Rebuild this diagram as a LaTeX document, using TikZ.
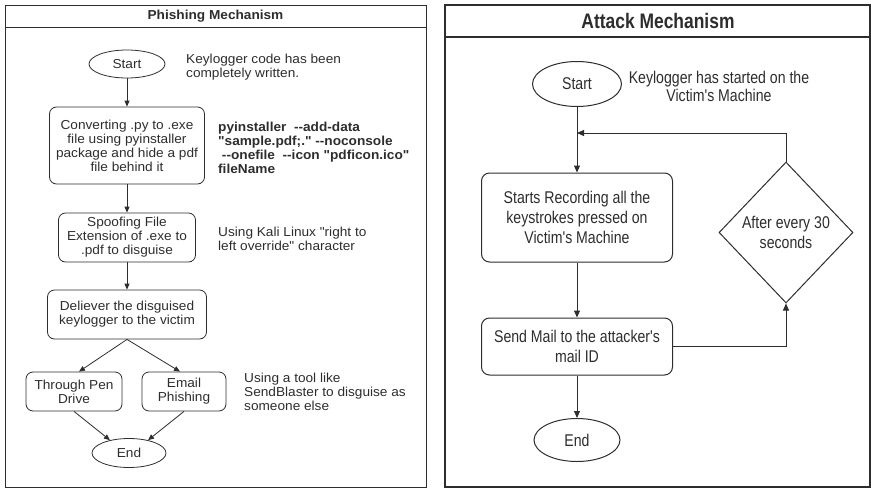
\documentclass[tikz,border=0pt]{standalone}
\usepackage{fontspec}
\setmainfont{Liberation Sans}
\newfontfamily\leftfont[FakeStretch=1.05]{Liberation Sans}
\newfontfamily\rightfont[FakeStretch=0.83]{Liberation Sans}
\usetikzlibrary{shapes.geometric,arrows.meta}
\definecolor{ink}{RGB}{45,45,45}

\begin{document}
\begin{tikzpicture}[x=1pt,y=1pt,yscale=-1,xscale=1,
    ink/.style={draw=ink,text=ink},
    frame/.style={draw=ink,line width=1pt},
    lbox/.style={ink,rounded corners=7pt,inner sep=0pt,align=center,line width=0.8pt,
        font=\leftfont\fontsize{13}{14}\selectfont},
    loval/.style={ink,ellipse,inner sep=0pt,line width=0.8pt,font=\leftfont\fontsize{13}{14}\selectfont},
    lnote/.style={text=ink,inner sep=0pt,align=left,anchor=west,font=\leftfont\fontsize{13}{14}\selectfont},
    rbox/.style={ink,rounded corners=8pt,inner sep=0pt,align=center,line width=1pt,
        font=\rightfont\fontsize{17}{20}\selectfont},
    roval/.style={ink,ellipse,inner sep=0pt,line width=1pt,font=\rightfont\fontsize{17}{20}\selectfont},
    arr/.style={draw=ink,line width=0.8pt,-{Triangle[length=6pt,width=5pt]}},
    rarr/.style={draw=ink,line width=1pt,-{Triangle[length=7pt,width=6pt]}}]
\useasboundingbox (0,0) rectangle (871,488);

% Phishing panel
\draw[frame] (5,5) rectangle (426,487);
\draw[frame] (5,27) -- (426,27);
\node[text=ink,font=\leftfont\bfseries\fontsize{13}{14}\selectfont] (ltitle) at (215.5,16) {Phishing Mechanism};

\node[loval,minimum width=76pt,minimum height=28pt] (lstart) at (127,64) {Start};
\node[lbox,minimum width=155pt,minimum height=77pt] (lconv) at (127,145.5)
    {Converting .py to .exe\\file using pyinstaller\\package and hide a pdf\\file behind it};
\node[lbox,minimum width=137pt,minimum height=49pt] (lspoof) at (127,237.5)
    {Spoofing File\\Extension of .exe to\\.pdf to disguise};
\node[lbox,minimum width=159pt,minimum height=49pt] (ldeliv) at (127,314.5)
    {Deliever the disguised\\keylogger to the victim};
\node[lbox,minimum width=96pt,minimum height=39pt] (lpen) at (74,391.5) {Through Pen\\Drive};
\node[lbox,minimum width=84pt,minimum height=39pt] (lmail) at (184,391.5) {Email\\Phishing};
\node[loval,minimum width=74pt,minimum height=29pt] (lend) at (129,453) {End};

% Text Node
\node[lnote] (lnote1) at (186,67) {Keylogger code has been\\completely written.};
% Text Node
\node[lnote,font=\leftfont\bfseries\fontsize{13}{14}\selectfont] (lcmd) at (218,148)
    {pyinstaller\ \ --add-data\\"sample.pdf;." --noconsole\\\ --onefile\ \ --icon "pdficon.ico"\\fileName};
% Text Node
\node[lnote] (lnote2) at (218,239) {Using Kali Linux "right to\\left override" character};
% Text Node
\node[lnote] (lnote3) at (244,392) {Using a tool like\\SendBlaster to disguise as\\someone else};

\draw[arr] (lstart) -- (lconv);
\draw[arr] (lconv) -- (lspoof);
\draw[arr] (lspoof) -- (ldeliv);
\draw[arr] (ldeliv.south) -- ([xshift=5pt]lpen.north);
\draw[arr] (ldeliv.south) -- ([xshift=-4pt]lmail.north);
\draw[arr] (lpen.south) -- (lend.146);
\draw[arr] (lmail.south) -- (lend.34);

% Attack panel
\draw[frame,line width=1.3pt] (445,5) rectangle (870,487);
\draw[frame,line width=1.3pt] (445,37) -- (870,37);
\node[text=ink,font=\rightfont\bfseries\fontsize{21}{24}\selectfont] (rtitle) at (658,21) {Attack Mechanism};

\node[roval,minimum width=89pt,minimum height=45pt] (rstart) at (577,84) {Start};
\node[rbox,minimum width=191pt,minimum height=89pt] (rrec) at (577,217.5)
    {Starts Recording all the\\keystrokes pressed on\\Victim's Machine};
\node[ink,diamond,aspect=1,inner sep=0pt,line width=1pt,minimum width=134pt,minimum height=141pt,
    align=center,font=\rightfont\fontsize{17}{20}\selectfont] (rwait) at (786,232.5) {After every 30\\seconds};
\node[rbox,minimum width=191pt,minimum height=57pt] (rsend) at (577,346.5)
    {Send Mail to the attacker's\\mail ID};
\node[roval,minimum width=86pt,minimum height=43pt] (rend) at (577,440) {End};
\coordinate (rjoin) at (577,133);

% Text Node
\node[text=ink,inner sep=0pt,align=center,font=\rightfont\fontsize{17}{18}\selectfont] (rnote) at (719,86)
    {Keylogger has started on the\\Victim's Machine};

\draw[rarr] (rstart) -- (rrec);
\draw[rarr] (rrec) -- (rsend);
\draw[rarr] (rsend) -- (rend);
\draw[rarr] (rsend.east) -| (rwait.south);
\draw[rarr] (rwait.north) |- (rjoin);
\end{tikzpicture}
\end{document}
